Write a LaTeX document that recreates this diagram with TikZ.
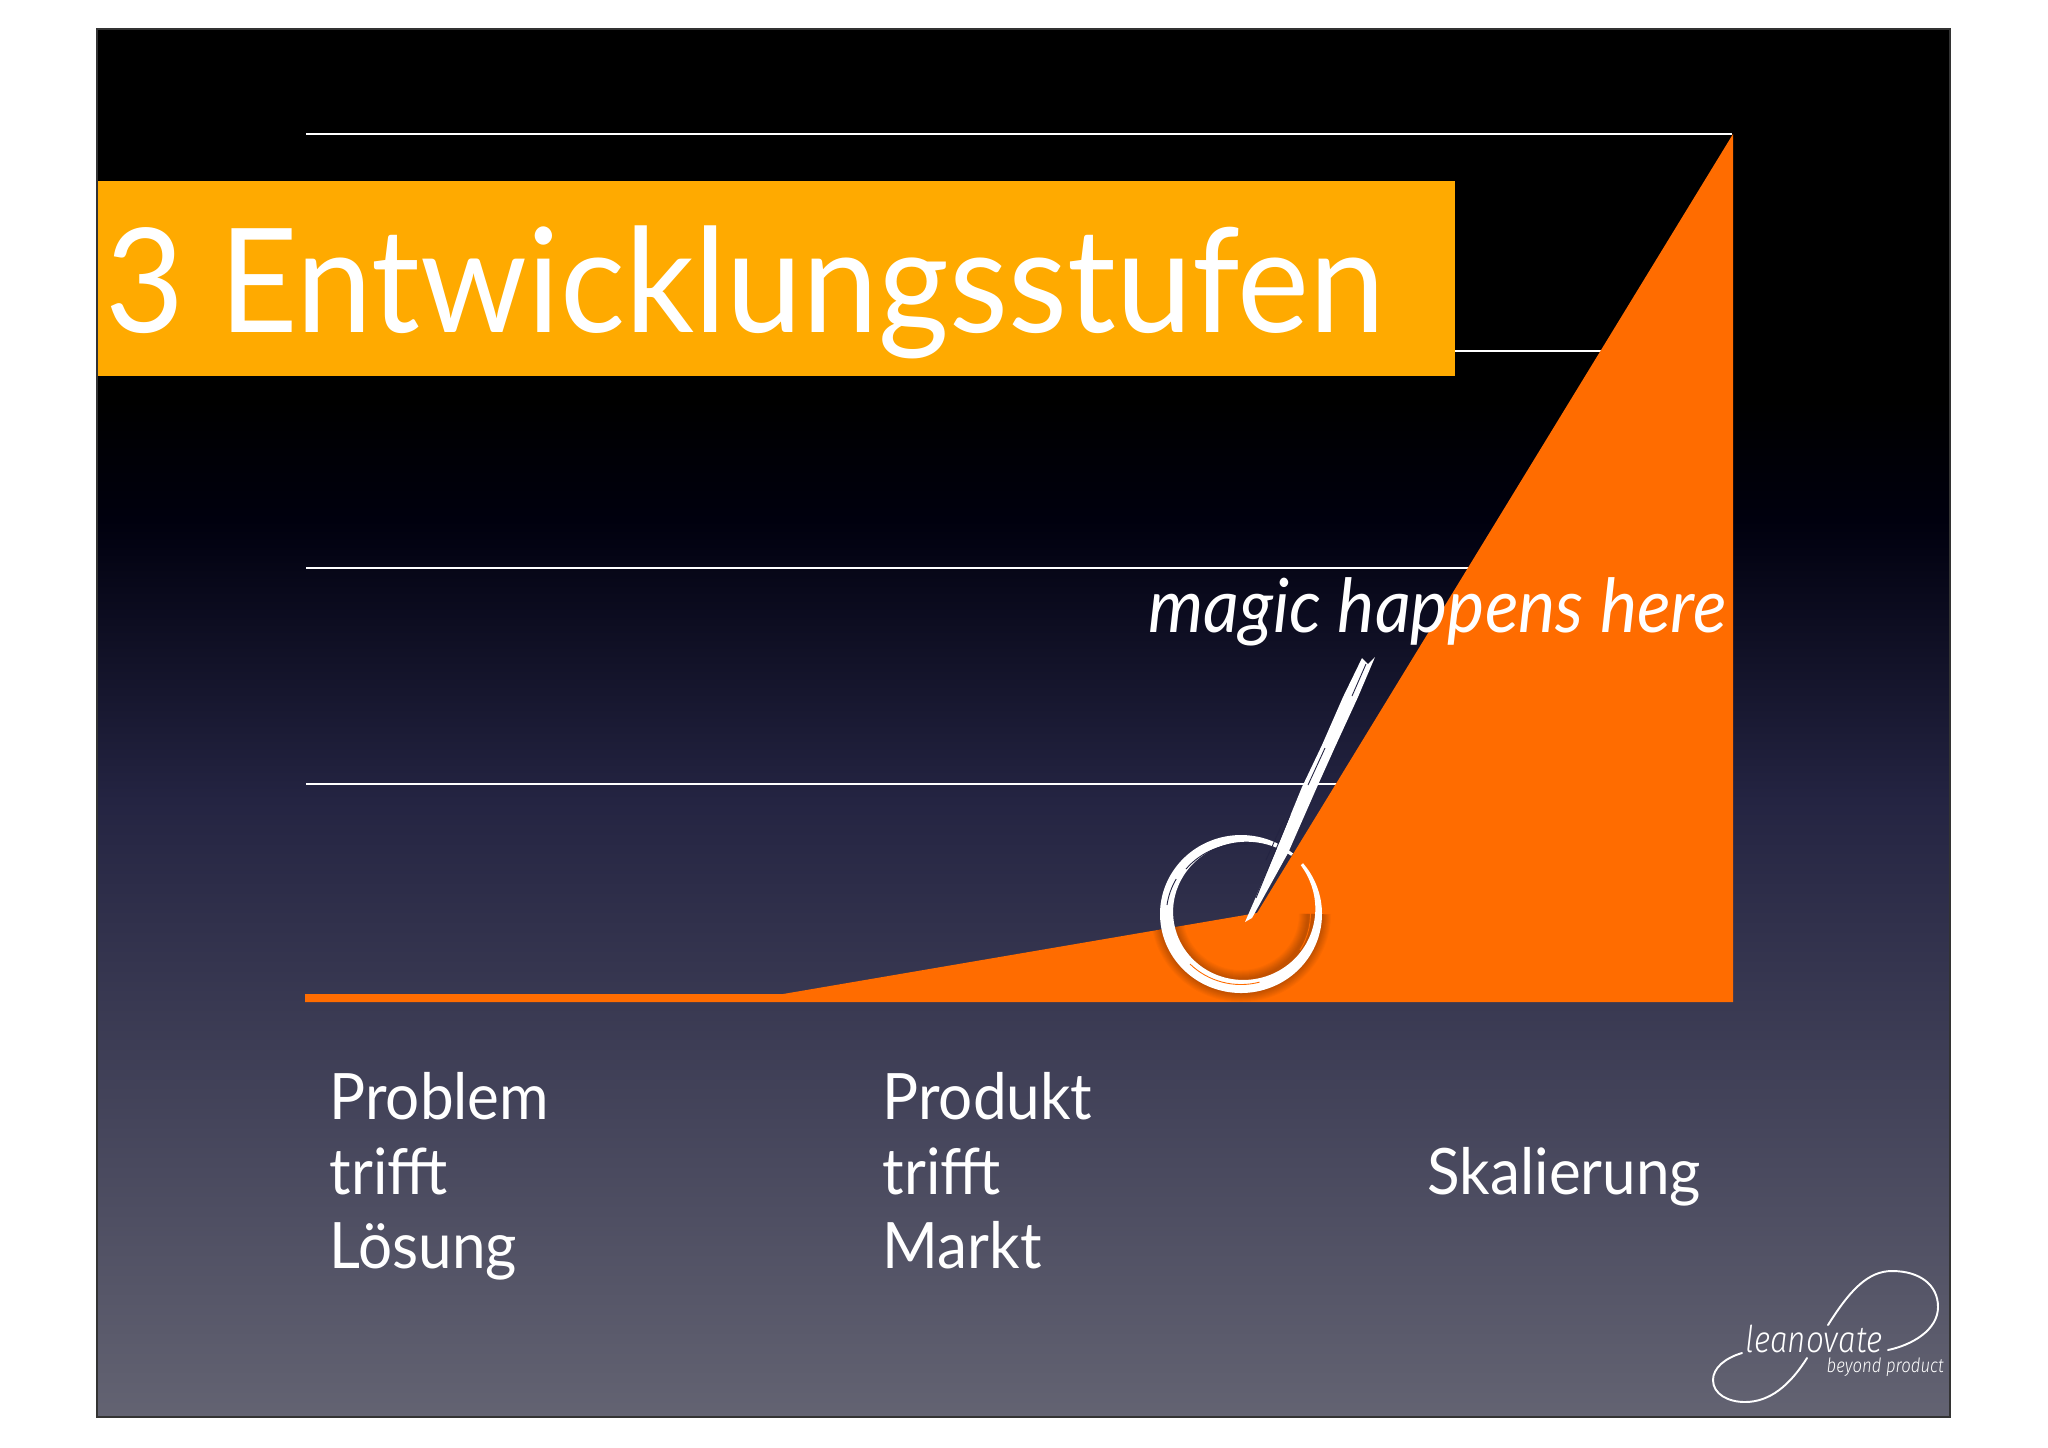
\documentclass[tikz,border=0pt]{standalone}
\usepackage{fontspec}
\setmainfont[FakeStretch=0.94]{Lato}
\newfontfamily\logofont[FakeStretch=0.85]{Fira Sans Light}
\definecolor{slidetop}{HTML}{00000E}
\definecolor{slidemid}{HTML}{242442}
\definecolor{slidebottom}{HTML}{636372}
\definecolor{stufeorange}{HTML}{FF6C00}
\definecolor{titleorange}{HTML}{FFAA00}
\usetikzlibrary{calc,positioning}
\begin{document}
\begin{tikzpicture}[x=0.01cm,y=-0.01cm,
    gridline/.style={draw=white,line width=0.4pt},
    txt/.style={text=white,inner sep=0pt,align=left,font=\fontsize{18.2}{21.3}\selectfont},
    brush/.style={fill=white,draw=none},
    streak/.style={line width=0.25pt},
    logoline/.style={draw=white,line width=0.55pt,line cap=round}]
              \useasboundingbox (0,0) rectangle (2048,1447);
              \fill[white] (0,0) rectangle (2048,1447);
              \fill[black] (97,29) rectangle (1950,400);
              \shade[top color=black,bottom color=slidetop] (97,400) rectangle (1950,520);
              \shade[top color=slidetop,bottom color=slidemid] (97,520) rectangle (1950,800);
              \shade[top color=slidemid,bottom color=slidebottom] (97,800) rectangle (1950,1417);
              \draw[black!80,line width=0.4pt] (97,29) rectangle (1950,1417);

              \foreach \y in {134,351,568,784}
                \draw[gridline] (306,\y) -- (1732,\y);

              \fill[stufeorange] (305,1002) -- (305,994) -- (783,994) -- (1257,913) -- (1733,134) -- (1733,1002) -- cycle;

              \fill[titleorange] (98,181) rectangle (1455,376);
              \node[txt,anchor=base west,font=\fontsize{41.2}{41}\selectfont] (title) at (105,332) {3 Entwicklungsstufen};
              \node[txt,anchor=base west,font=\itshape\fontsize{21.2}{28}\selectfont] (magic) at (1148,632) {magic happens here};

              \begin{scope}
                \clip (305,1002) -- (783,994) -- (1257,913) -- (1733,134) -- (1733,1002) -- cycle;
                \foreach \w in {16,18,...,32}
                  \draw[black,opacity=0.028,line width=\w*0.2845pt] (1315,914) arc[start angle=0,end angle=175,x radius=74,y radius=72];
              \end{scope}

              \fill[brush] plot[domain=50:400,samples=90,smooth] ({1241+81*cos(\x)},{914-79*sin(\x)})
                -- plot[domain=400:50,samples=90,smooth] ({1241+(78-11*sin((\x-50)*0.5143))*cos(\x)},{914-(76-11*sin((\x-50)*0.5143))*sin(\x)}) -- cycle;
              \draw[streak,slidemid] (1186,869) arc[start angle=-140,end angle=-85,x radius=72,y radius=70];
              \draw[streak,slidemid] (1167,905) arc[start angle=-172,end angle=-150,x radius=74,y radius=72];
              \draw[streak,stufeorange] (1190,964) arc[start angle=135,end angle=75,x radius=72,y radius=70];
              \draw[streak,stufeorange] (1300,950) arc[start angle=32,end angle=-8,x radius=69,y radius=68];

              \fill[brush] (1245,922) -- (1275,853) -- (1302,787) -- (1322,745) -- (1343,697) -- (1362,658)
                -- (1368,664) -- (1375,657) -- (1358,697) -- (1335,747) -- (1317,787) -- (1288,853) -- (1252,918) -- cycle;
              \draw[streak,slidemid] (1256,898) -- (1290,815);
              \draw[streak,slidemid] (1266,860) -- (1284,820);
              \draw[streak,slidemid] (1308,785) -- (1325,748);
              \draw[streak,slidemid] (1352,696) -- (1366,664);

              \node[txt,anchor=west] (problem) at (329,1179) {\strut Problem\\\strut trifft\\\strut Lösung};
              \node[txt,anchor=west] (produkt) at (882,1179) {\strut Produkt\\\strut trifft\\\strut Markt};
              \node[txt,anchor=west] (skalierung) at (1427,1179) {\strut Skalierung};

              \draw[logoline] (1828,1325) .. controls (1850,1290) and (1868,1271) .. (1892,1271)
                .. controls (1920,1271) and (1938,1285) .. (1938,1307)
                .. controls (1938,1330) and (1912,1345) .. (1888,1350);
              \draw[logoline] (1742,1353) .. controls (1725,1358) and (1713,1368) .. (1713,1380)
                .. controls (1713,1394) and (1728,1402) .. (1745,1402)
                .. controls (1770,1402) and (1790,1385) .. (1807,1358);
              \node[txt,anchor=base west,font=\logofont\itshape\fontsize{10.5}{12}\selectfont] (leanovate) at (1745,1352) {leanovate};
              \node[txt,anchor=base west,font=\logofont\itshape\fontsize{5.6}{6}\selectfont] (beyond) at (1826,1372) {beyond product};
            \end{tikzpicture}
\end{document}
